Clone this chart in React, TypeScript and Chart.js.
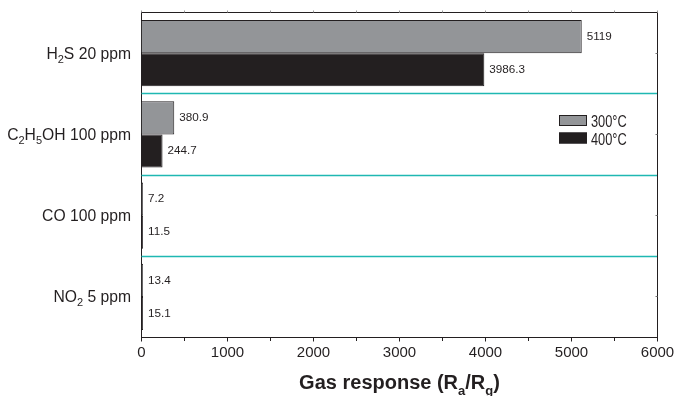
import React, { useEffect, useRef } from 'react';
import { Chart, registerables } from 'chart.js';

Chart.register(...registerables);

// ---- data ----
const categories = ['H_2S 20 ppm', 'C_2H_5OH 100 ppm', 'CO 100 ppm', 'NO_2 5 ppm'];
const seriesNames = ['300°C', '400°C'];
const response300 = [5119, 380.9, 7.2, 13.4];
const response400 = [3986.3, 244.7, 11.5, 15.1];
const xMin = 0;
const xMax = 6000;
const xMajorStep = 1000;
const xMinorStep = 500;
const xTitle = 'Gas response (R_a/R_g)';

// ---- style ----
const INK = '#231f20';
const GRAY = '#939598';
const TEAL = '#1fb8b2';
const FONT = '"Liberation Sans", Arial, Helvetica, sans-serif';

type Seg = { t: string; sub: boolean };

function parseRich(s: string): Seg[] {
  const out: Seg[] = [];
  let buf = '';
  for (let i = 0; i < s.length; i++) {
    if (s[i] === '_' && i + 1 < s.length) {
      if (buf) {
        out.push({ t: buf, sub: false });
        buf = '';
      }
      out.push({ t: s[i + 1], sub: true });
      i++;
    } else {
      buf += s[i];
    }
  }
  if (buf) out.push({ t: buf, sub: false });
  return out;
}

function drawRich(
  ctx: CanvasRenderingContext2D,
  s: string,
  x: number,
  baseline: number,
  align: 'left' | 'right' | 'center',
  size: number,
  subSize: number,
  subDrop: number,
  weight: string
) {
  const segs = parseRich(s);
  const mainFont = `${weight} ${size}px ${FONT}`;
  const subFont = `${weight} ${subSize}px ${FONT}`;
  const widths = segs.map((seg) => {
    ctx.font = seg.sub ? subFont : mainFont;
    return ctx.measureText(seg.t).width;
  });
  const total = widths.reduce((a, b) => a + b, 0);
  let cx = align === 'left' ? x : align === 'right' ? x - total : x - total / 2;
  ctx.textAlign = 'left';
  ctx.textBaseline = 'alphabetic';
  segs.forEach((seg, i) => {
    ctx.font = seg.sub ? subFont : mainFont;
    ctx.fillText(seg.t, cx, seg.sub ? baseline + subDrop : baseline);
    cx += widths[i];
  });
}

const decorPlugin = {
  id: 'decor',
  afterDatasetsDraw(chart: any) {
    const { ctx, chartArea: a, scales } = chart;
    const xs = scales.x;
    const ys = scales.y;
    ctx.save();

    const left = Math.round(a.left - 0.5) + 0.5;
    const top = Math.round(a.top - 0.5) + 0.5;
    const right = Math.round(a.right - 0.5) + 0.5;
    const bottom = Math.round(a.bottom - 0.5) + 0.5;

    // teal separators between categories
    ctx.strokeStyle = TEAL;
    ctx.lineWidth = 1.3;
    for (let i = 1; i < categories.length; i++) {
      const mid = (ys.getPixelForValue(i - 1) + ys.getPixelForValue(i)) / 2;
      const py = Math.round(mid - 0.5) + 0.5;
      ctx.beginPath();
      ctx.moveTo(left, py);
      ctx.lineTo(right, py);
      ctx.stroke();
    }

    // frame: top & right
    ctx.strokeStyle = INK;
    ctx.lineWidth = 1;
    ctx.beginPath();
    ctx.moveTo(left, top);
    ctx.lineTo(right, top);
    ctx.lineTo(right, bottom);
    ctx.stroke();

    // bottom ticks (outward)
    for (let v = xMin; v <= xMax; v += xMinorStep) {
      const px = Math.round(xs.getPixelForValue(v) - 0.5) + 0.5;
      const major = v % xMajorStep === 0;
      ctx.strokeStyle = INK;
      ctx.beginPath();
      ctx.moveTo(px, bottom);
      ctx.lineTo(px, bottom + (major ? 4 : 3.5));
      ctx.stroke();
      // top ticks (outward, faint)
      ctx.strokeStyle = '#9a9a9a';
      ctx.beginPath();
      ctx.moveTo(px, top);
      ctx.lineTo(px, top - 2);
      ctx.stroke();
    }

    // right axis small ticks at category centers
    ctx.strokeStyle = '#777';
    categories.forEach((_, i) => {
      const py = Math.round(ys.getPixelForValue(i) - 0.5) + 0.5;
      ctx.beginPath();
      ctx.moveTo(right, py);
      ctx.lineTo(right - 2, py);
      ctx.stroke();
    });

    // category labels
    ctx.fillStyle = INK;
    categories.forEach((label, i) => {
      const cy = ys.getPixelForValue(i);
      drawRich(ctx, label, a.left - 10.5, cy + 5.5, 'right', 15.7, 11, 4, 'normal');
    });

    // value labels
    ctx.font = `11.7px ${FONT}`;
    ctx.textAlign = 'left';
    ctx.textBaseline = 'middle';
    chart.data.datasets.forEach((ds: any, di: number) => {
      const meta = chart.getDatasetMeta(di);
      meta.data.forEach((el: any, i: number) => {
        ctx.fillText(String(ds.data[i]), el.x + 5, el.y);
      });
    });

    // legend
    const lx = a.right - 98.5;
    const ly0 = a.top + 102.5;
    const rowGap = 17.5;
    chart.data.datasets.forEach((ds: any, di: number) => {
      const by = ly0 + di * rowGap;
      ctx.fillStyle = ds.backgroundColor;
      ctx.fillRect(lx, by, 28, 11);
      ctx.strokeStyle = INK;
      ctx.lineWidth = 1;
      ctx.strokeRect(lx + 0.5, by + 0.5, 27, 10);
      ctx.fillStyle = INK;
      ctx.font = `16px ${FONT}`;
      ctx.textAlign = 'left';
      ctx.textBaseline = 'middle';
      ctx.save();
      ctx.translate(lx + 32, by + 8);
      ctx.scale(0.8, 1);
      ctx.fillText(ds.label, 0, 0);
      ctx.restore();
    });

    // x title
    ctx.fillStyle = INK;
    drawRich(ctx, xTitle, (a.left + a.right) / 2, 388.5, 'center', 20, 13, 6, 'bold');

    ctx.restore();
  },
};

export default function App() {
  const ref = useRef<HTMLCanvasElement | null>(null);

  useEffect(() => {
    document.body.style.margin = '0';
    const canvas = ref.current;
    if (!canvas) return;
    const chart = new Chart(canvas, {
      type: 'bar',
      data: {
        labels: categories,
        datasets: [
          {
            label: seriesNames[0],
            data: response300,
            backgroundColor: GRAY,
            borderColor: INK,
            borderWidth: 1,
          },
          {
            label: seriesNames[1],
            data: response400,
            backgroundColor: INK,
            borderColor: INK,
            borderWidth: 1,
          },
        ],
      },
      options: {
        indexAxis: 'y',
        responsive: false,
        animation: false,
        devicePixelRatio: 1,
        layout: { padding: { top: 12.5, right: 18.5, bottom: 0, left: 0 } },
        plugins: {
          legend: { display: false },
          tooltip: { enabled: false },
        },
        datasets: {
          bar: { categoryPercentage: 0.815, barPercentage: 1, minBarLength: 1.5 },
        },
        scales: {
          x: {
            type: 'linear',
            min: xMin,
            max: xMax,
            afterFit: (s: any) => {
              s.height = 58.5;
              s.paddingLeft = 0;
              s.paddingRight = 0;
            },
            ticks: {
              stepSize: xMajorStep,
              font: { family: FONT, size: 15 },
              color: INK,
              padding: 6,
              callback: (v: any) => String(v),
            },
            grid: { display: false, drawTicks: false },
            border: { display: true, color: INK, width: 1 },
          },
          y: {
            type: 'category',
            afterFit: (s: any) => {
              s.width = 141.5;
            },
            ticks: { display: false },
            grid: { display: false, drawTicks: false },
            border: { display: true, color: INK, width: 1 },
          },
        },
      } as any,
      plugins: [decorPlugin],
    });
    return () => chart.destroy();
  }, []);

  return (
    <div style={{ width: 676, height: 396, position: 'relative' }}>
      <canvas ref={ref} width={676} height={396} style={{ display: 'block' }} />
    </div>
  );
}
